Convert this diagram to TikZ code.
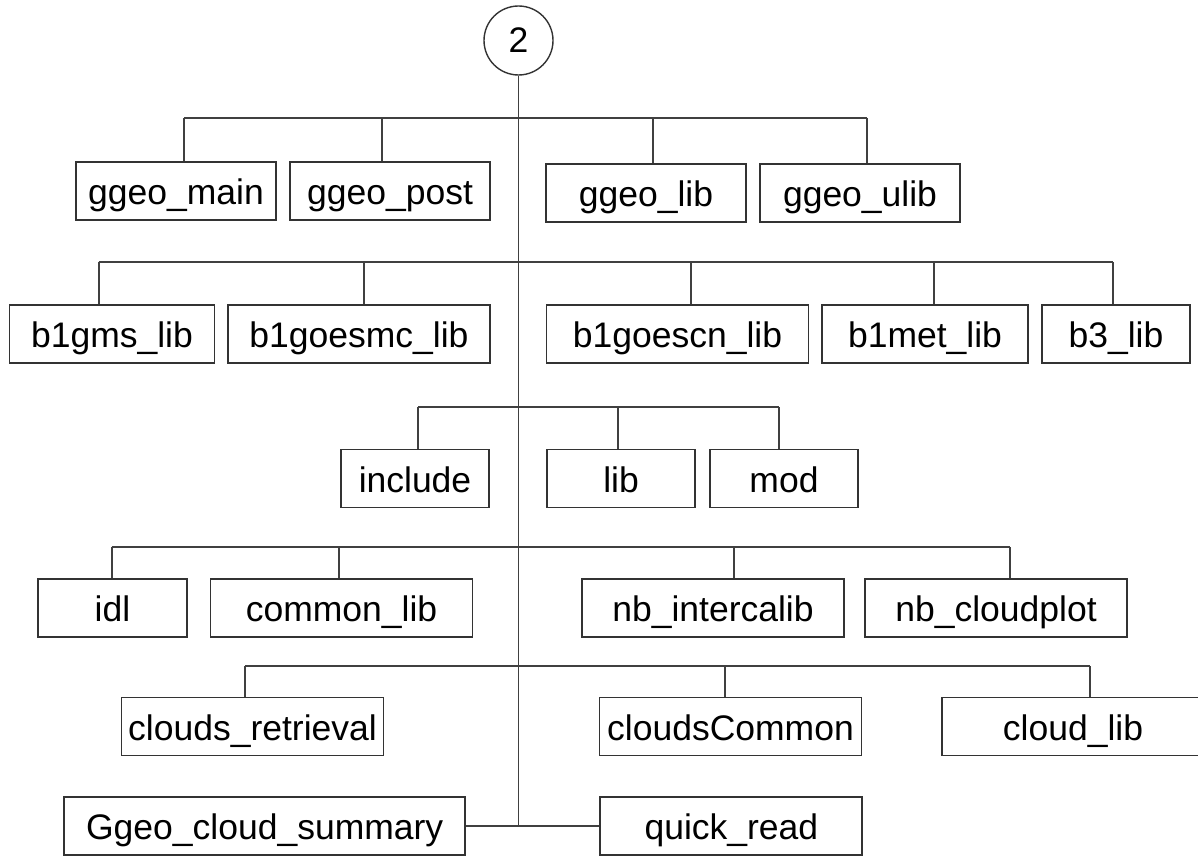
\documentclass[tikz,border=0pt]{standalone}
\usepackage{fontspec}
\setmainfont{Liberation Sans}
\usepackage{tikz}
\usetikzlibrary{calc}

\begin{document}
\begin{tikzpicture}[
    x=1pt, y=-1pt,
    line width=1.9pt,
    font=\fontsize{35.5}{40}\selectfont,
    dirbox/.style={draw=black!80, line width=1.9pt, inner sep=0pt, minimum height=58,
                   text height=27, text depth=0},
    rootnode/.style={circle, draw=black!80, line width=1.4pt, inner sep=0pt, minimum size=69,
                     text height=25, text depth=0},
    bus/.style={draw=black!75, line width=1.9pt}
]

    % === FRAME (keeps the page at the reference size) ===
    \useasboundingbox (0,0) rectangle (1198,856);

    % Box widths
    \def\wS{148.5}  % small box
    \def\wM{200}    % medium box
    \def\wL{262}    % long box

    % Heights of the horizontal bus lines
    \def\busA{118}
    \def\busB{262}
    \def\busC{407}
    \def\busD{547}
    \def\busE{666}

    % === ROOT ===
    \node[rootnode] (root) at (518.5,40.5) {2};

    % === 1. GGEO ROW ===
    \node[dirbox, minimum width=\wM] (ggeomain) at (176,191) {ggeo\_main};
    \node[dirbox, minimum width=\wM] (ggeopost) at (390,191) {ggeo\_post};
    \node[dirbox, minimum width=\wM] (ggeolib)  at (646,193) {ggeo\_lib};
    \node[dirbox, minimum width=\wM] (ggeoulib) at (860,193) {ggeo\_ulib};

    % === 2. B1 / B3 ROW ===
    \node[dirbox, minimum width=205] (bgms)     at (112,334)   {b1gms\_lib};
    \node[dirbox, minimum width=\wL] (bgoesmc)  at (359,334)   {b1goesmc\_lib};
    \node[dirbox, minimum width=\wL] (bgoescn)  at (677.5,334) {b1goescn\_lib};
    \node[dirbox, minimum width=206] (bmet)     at (925,334)   {b1met\_lib};
    \node[dirbox, minimum width=\wS] (bthree)   at (1116,334)  {b3\_lib};

    % === 3. INCLUDE / LIB / MOD ===
    \node[dirbox, minimum width=\wS] (include) at (415,478.5) {include};
    \node[dirbox, minimum width=\wS] (lib)     at (621,478.5) {lib};
    \node[dirbox, minimum width=\wS] (mod)     at (784,478.5) {mod};

    % === 4. IDL / NB ROW ===
    \node[dirbox, minimum width=\wS] (idl)        at (112.5,607.7) {idl};
    \node[dirbox, minimum width=\wL] (commonlib)  at (341.5,607.7) {common\_lib};
    \node[dirbox, minimum width=\wL] (intercalib) at (713,607.7)   {nb\_intercalib};
    \node[dirbox, minimum width=\wL] (cloudplot)  at (996,607.7)   {nb\_cloudplot};

    % === 5. CLOUDS ROW ===
    \node[dirbox, minimum width=\wL] (retrieval)    at (252.5,726.5) {clouds\_retrieval};
    \node[dirbox, minimum width=\wL] (cloudscommon) at (730.5,726.5) {cloudsCommon};
    \node[dirbox, minimum width=\wL] (cloudlib)     at (1073,726.5)  {cloud\_lib};

    % === 6. BOTTOM PAIR ===
    \node[dirbox, minimum width=401] (summary) at (264.7,826) {Ggeo\_cloud\_summary};
    \node[dirbox, minimum width=\wL] (quick)   at (731.4,826) {quick\_read};

    % === TRUNK ===
    \draw[bus] (root.south) -- (root.south |- summary.east);
    \draw[bus] (summary.east) -- (quick.west);

    % === BUS LINES ===
    \draw[bus] (184,\busA) -- (867,\busA);
    \draw[bus] (98.7,\busB) -- (1113,\busB);
    \draw[bus] (418.3,\busC) -- (778.7,\busC);
    \draw[bus] (111.7,\busD) -- (1010,\busD);
    \draw[bus] (245,\busE) -- (1090,\busE);

    % Drops from each bus to its boxes
    \foreach \x/\n in {184/ggeomain, 382/ggeopost, 653/ggeolib, 867/ggeoulib}
        \draw[bus] (\x,\busA) -- (\n.north -| \x,0);
    \foreach \x/\n in {98.7/bgms, 364/bgoesmc, 691/bgoescn, 934/bmet, 1113/bthree}
        \draw[bus] (\x,\busB) -- (\n.north -| \x,0);
    \foreach \x/\n in {418.3/include, 618.4/lib, 778.7/mod}
        \draw[bus] (\x,\busC) -- (\n.north -| \x,0);
    \foreach \x/\n in {111.7/idl, 339/commonlib, 734.3/intercalib, 1010/cloudplot}
        \draw[bus] (\x,\busD) -- (\n.north -| \x,0);
    \foreach \x/\n in {245/retrieval, 724.8/cloudscommon, 1090/cloudlib}
        \draw[bus] (\x,\busE) -- (\n.north -| \x,0);

\end{tikzpicture}
\end{document}
